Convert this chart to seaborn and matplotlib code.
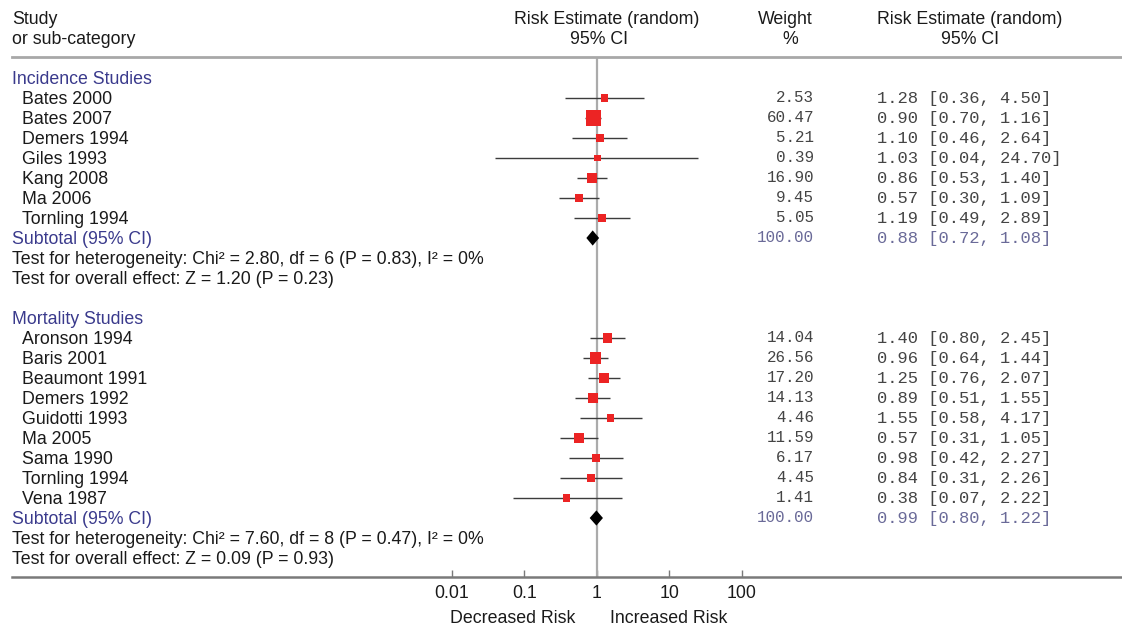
import numpy as np
import pandas as pd
import matplotlib
matplotlib.use("Agg")
import matplotlib.pyplot as plt
import matplotlib.transforms as mtransforms
import seaborn as sns

# ---------------- data ----------------
inc_title = "Incidence Studies"
inc_studies = ["Bates 2000", "Bates 2007", "Demers 1994", "Giles 1993",
               "Kang 2008", "Ma 2006", "Tornling 1994"]
inc_est = [1.28, 0.90, 1.10, 1.03, 0.86, 0.57, 1.19]
inc_lo = [0.36, 0.70, 0.46, 0.04, 0.53, 0.30, 0.49]
inc_hi = [4.50, 1.16, 2.64, 24.70, 1.40, 1.09, 2.89]
inc_w = [2.53, 60.47, 5.21, 0.39, 16.90, 9.45, 5.05]
inc_sub = [0.88, 0.72, 1.08]
inc_het = "Test for heterogeneity: Chi² = 2.80, df = 6 (P = 0.83), I² = 0%"
inc_eff = "Test for overall effect: Z = 1.20 (P = 0.23)"

mort_title = "Mortality Studies"
mort_studies = ["Aronson 1994", "Baris 2001", "Beaumont 1991", "Demers 1992",
                "Guidotti 1993", "Ma 2005", "Sama 1990", "Tornling 1994", "Vena 1987"]
mort_est = [1.40, 0.96, 1.25, 0.89, 1.55, 0.57, 0.98, 0.84, 0.38]
mort_lo = [0.80, 0.64, 0.76, 0.51, 0.58, 0.31, 0.42, 0.31, 0.07]
mort_hi = [2.45, 1.44, 2.07, 1.55, 4.17, 1.05, 2.27, 2.26, 2.22]
mort_w = [14.04, 26.56, 17.20, 14.13, 4.46, 11.59, 6.17, 4.45, 1.41]
mort_sub = [0.99, 0.80, 1.22]
mort_het = "Test for heterogeneity: Chi² = 7.60, df = 8 (P = 0.47), I² = 0%"
mort_eff = "Test for overall effect: Z = 0.09 (P = 0.93)"

tick_values = [0.01, 0.1, 1, 10, 100]
tick_labels = ["0.01", "0.1", "1", "10", "100"]
left_label = "Decreased Risk"
right_label = "Increased Risk"

# ---------------- style ----------------
sns.set_theme(style="white")
plt.rcParams["font.family"] = ["Liberation Sans", "DejaVu Sans"]

W, H = 1122, 630
fig = plt.figure(figsize=(W / 100, H / 100), dpi=100)
ax = fig.add_axes([12 / W, (H - 577) / H, (W - 12) / W, (577 - 57) / H])

BLUE = "#3a3a8c"
SUBVAL = "#6a6a98"
TXT = "#1a1a1a"
VAL = "#444444"
RED = "#ec2424"

FS = 12.8
MONO = ["Liberation Mono", "DejaVu Sans Mono"]
MFS_W = 11.4
MFS_CI = 12.3
DY = 0.09  # small text baseline offset (rows)

def add_group(title, studies, est, lo, hi, w, sub, het, eff, start):
    out = [dict(row=start, kind="title", label=title)]
    for i, s in enumerate(studies):
        out.append(dict(row=start + 1 + i, kind="study", label=s, est=est[i],
                        lo=lo[i], hi=hi[i], w=w[i]))
    n = len(studies)
    out.append(dict(row=start + n + 1, kind="sub", label="Subtotal (95% CI)",
                    est=sub[0], lo=sub[1], hi=sub[2], w=100.0))
    out.append(dict(row=start + n + 2, kind="note", label=het))
    out.append(dict(row=start + n + 3, kind="note", label=eff))
    return out, start + n + 5

g1, r = add_group(inc_title, inc_studies, inc_est, inc_lo, inc_hi, inc_w, inc_sub,
                  inc_het, inc_eff, 0)
g2, r = add_group(mort_title, mort_studies, mort_est, mort_lo, mort_hi, mort_w, mort_sub,
                  mort_het, mort_eff, r)
df = pd.DataFrame(g1 + g2)
studies_df = df[df.kind == "study"].copy()
subs_df = df[df.kind == "sub"].copy()

# axes scaling
ax.set_xscale("log")
ax.set_xlim(10 ** ((12 - 596.7) / 72.5), 10 ** ((1122 - 596.7) / 72.5))
ax.set_ylim(24.95, -1.05)

# reference line at 1
ax.axvline(1, color="#ababab", lw=1.6, zorder=1)

# CI lines
ax.hlines(studies_df["row"], studies_df["lo"], studies_df["hi"],
          color="#3c3c3c", lw=1.0, zorder=2)

# squares
allw = inc_w + mort_w
sns.scatterplot(data=studies_df, x="est", y="row", size="w",
                sizes=(25, 117), size_norm=(min(allw), max(allw)),
                marker="s", color=RED, linewidth=0, legend=False, ax=ax, zorder=3)

# diamonds
for _, s in subs_df.iterrows():
    ax.fill([s.lo, s.est, s.hi, s.est], [s.row, s.row - 0.38, s.row, s.row + 0.38],
            color="black", zorder=4, lw=0)

# spines / ticks
for side in ["left", "right"]:
    ax.spines[side].set_visible(False)
ax.spines["top"].set_color("#a8a8a8")
ax.spines["top"].set_linewidth(2.0)
ax.spines["bottom"].set_color("#7a7a7a")
ax.spines["bottom"].set_linewidth(1.8)
ax.set_yticks([])
ax.set_xticks(tick_values)
ax.set_xticklabels(tick_labels)
ax.minorticks_off()
ax.tick_params(axis="x", which="major", direction="in", length=5, width=1,
               color="#7a7a7a", labelsize=FS, labelcolor=TXT, pad=6, bottom=True)
ax.set_xlabel("")
ax.set_ylabel("")
ax.grid(False)

tr = mtransforms.blended_transform_factory(fig.transFigure, ax.transData)
def fx(px):
    return px / W

# headers
hdr = dict(transform=tr, fontsize=FS, color=TXT, va="center", clip_on=False)
ax.text(fx(12), -3 + DY, "Study", ha="left", **hdr)
ax.text(fx(12), -2 + DY, "or sub-category", ha="left", **hdr)
ax.text(fx(606.5), -3 + DY, "Risk Estimate (random)", ha="center", **hdr)
ax.text(fx(599), -2 + DY, "95% CI", ha="center", **hdr)
ax.text(fx(785), -3 + DY, "Weight", ha="center", **hdr)
ax.text(fx(790), -2 + DY, "%", ha="center", **hdr)
ax.text(fx(970), -3 + DY, "Risk Estimate (random)", ha="center", **hdr)
ax.text(fx(970), -2 + DY, "95% CI", ha="center", **hdr)

# row texts
for _, s in df.iterrows():
    if s.kind in ("title", "sub"):
        x0, col = 12, BLUE
    elif s.kind == "study":
        x0, col = 22, TXT
    else:
        x0, col = 12, TXT
    ax.text(fx(x0), s.row + DY, s.label, ha="left", va="center", color=col,
            fontsize=FS, transform=tr, clip_on=False)
    if s.kind in ("study", "sub"):
        c = VAL if s.kind == "study" else SUBVAL
        ax.text(fx(814), s.row, f"{s.w:.2f}", ha="right", va="center", color=c,
                fontsize=MFS_W, family=MONO, transform=tr, clip_on=False)
        ax.text(fx(877), s.row, f"{s.est:.2f} [{s.lo:.2f}, {s.hi:.2f}]", ha="left",
                va="center", color=c, fontsize=MFS_CI, family=MONO, transform=tr,
                clip_on=False)

# direction labels
ax.text(fx(513), 26.95 + DY, left_label, ha="center", va="center", color=TXT,
        fontsize=FS, transform=tr, clip_on=False)
ax.text(fx(669), 26.95 + DY, right_label, ha="center", va="center", color=TXT,
        fontsize=FS, transform=tr, clip_on=False)

fig.savefig("out.png", dpi=100)
